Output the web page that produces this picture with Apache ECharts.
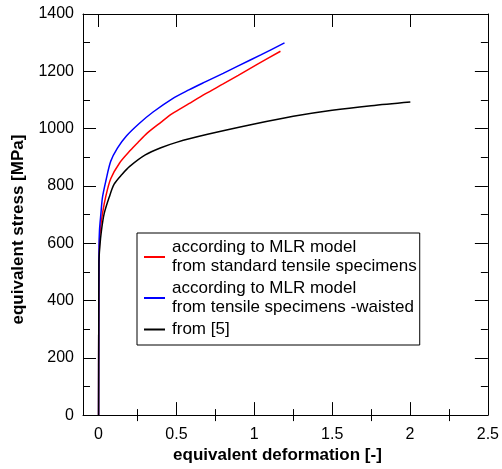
<!DOCTYPE html>
<html>
<head>
<meta charset="utf-8">
<title>Equivalent stress vs equivalent deformation</title>
<script src="https://cdn.jsdelivr.net/npm/echarts@6/dist/echarts.min.js"></script>
<style>
  html, body { margin: 0; padding: 0; background: #fff; }
  #chart { width: 502px; height: 469px; }
</style>
</head>
<body>
<div id="chart"></div>
<script>
// Flow curves: [equivalent deformation, equivalent stress in MPa]
const standardCurve = [
  [0, 0], [0.001, 300], [0.003, 530], [0.005, 588], [0.011, 646], [0.025, 703],
  [0.047, 765], [0.078, 825], [0.135, 880], [0.206, 925], [0.25, 950], [0.314, 985],
  [0.4, 1022], [0.473, 1052], [0.58, 1087], [0.685, 1121], [0.8, 1156], [0.897, 1186],
  [1.024, 1226], [1.168, 1270]
];
const waistedCurve = [
  [0, 0], [0.001, 300], [0.003, 588], [0.006, 646], [0.015, 703], [0.025, 760],
  [0.047, 818], [0.078, 886], [0.121, 932], [0.18, 975], [0.261, 1018], [0.35, 1058],
  [0.473, 1104], [0.58, 1135], [0.685, 1163], [0.8, 1193], [0.897, 1219], [1.045, 1258],
  [1.194, 1299]
];
const referenceCurve = [
  [0, 0], [0.001, 300], [0.002, 531], [0.008, 588], [0.019, 646], [0.036, 703],
  [0.068, 760], [0.1, 806], [0.15, 840], [0.2, 868], [0.3, 908], [0.4, 933],
  [0.5, 952], [0.7, 980], [1.0, 1016], [1.25, 1043], [1.5, 1064], [1.75, 1080],
  [2.002, 1093]
];

const seriesNames = [
  'according to MLR model\nfrom standard tensile specimens',
  'according to MLR model\nfrom tensile specimens -waisted',
  'from [5]'
];
const seriesColors = ['#ff0000', '#0000ff', '#000000'];

const xMajorTicks = [0, 0.5, 1, 1.5, 2, 2.5];
const xMinorTicks = [0.25, 0.75, 1.25, 1.75, 2.25];
const xRange = [-0.1, 2.5];
const yRange = [0, 1400];
const yStep = 200;

const FONT = 'Liberation Sans, Arial, Helvetica, sans-serif';
const black = '#000';

function xAxisDef(pos, ticks, len, opts) {
  return Object.assign({
    type: 'value', position: pos, min: xRange[0], max: xRange[1],
    axisLine: { show: true, onZero: false, lineStyle: { color: black, width: 1 } },
    axisTick: { show: true, inside: true, length: len, customValues: ticks,
                lineStyle: { color: black, width: 1 } },
    axisLabel: { show: false },
    splitLine: { show: false }
  }, opts || {});
}

function yAxisDef(pos, opts) {
  return Object.assign({
    type: 'value', position: pos, min: yRange[0], max: yRange[1], interval: yStep,
    axisLine: { show: true, onZero: false, lineStyle: { color: black, width: 1 } },
    axisTick: { show: true, inside: true, length: 13, lineStyle: { color: black, width: 1 } },
    minorTick: { show: true, splitNumber: 2, length: 7, lineStyle: { color: black, width: 1 } },
    axisLabel: { show: false },
    splitLine: { show: false },
    minorSplitLine: { show: false }
  }, opts || {});
}

const chart = echarts.init(document.getElementById('chart'), null, { renderer: 'canvas' });

chart.setOption({
  animation: false,
  backgroundColor: '#fff',
  grid: { left: 83, right: 10, top: 14, bottom: 48 },
  legend: {
    orient: 'vertical',
    left: 137, top: 233,
    padding: [5, 3, 6, 7],
    itemGap: 3,
    itemWidth: 21, itemHeight: 2,
    icon: 'rect',
    borderColor: black, borderWidth: 1,
    textStyle: { fontFamily: FONT, fontSize: 17, lineHeight: 19, color: black, padding: [0, 0, 0, 2] },
    data: seriesNames
  },
  xAxis: [
    xAxisDef('bottom', xMajorTicks, 13, {
      axisLabel: { show: true, customValues: xMajorTicks, margin: 11,
                   fontFamily: FONT, fontSize: 16, color: black,
                   formatter: v => String(v) },
      name: 'equivalent deformation [-]',
      nameLocation: 'middle', nameGap: 28,
      nameTextStyle: { fontFamily: FONT, fontSize: 17, fontWeight: 'bold', color: black,
                       padding: [0, 16, 0, 0] }
    }),
    xAxisDef('bottom', xMinorTicks, 6, { axisLine: { show: false } }),
    xAxisDef('top', xMajorTicks, 13),
    xAxisDef('top', xMinorTicks, 6, { axisLine: { show: false } })
  ],
  yAxis: [
    yAxisDef('left', {
      axisLabel: { show: true, margin: 9, fontFamily: FONT, fontSize: 16, color: black,
                   formatter: v => String(v) },
      name: 'equivalent stress [MPa]',
      nameLocation: 'middle', nameGap: 56,
      nameTextStyle: { fontFamily: FONT, fontSize: 17, fontWeight: 'bold', color: black,
                       padding: [0, 30, 0, 0] }
    }),
    yAxisDef('right')
  ],
  series: [standardCurve, waistedCurve, referenceCurve].map((data, i) => ({
    name: seriesNames[i],
    type: 'line',
    xAxisIndex: 0, yAxisIndex: 0,
    data: data,
    showSymbol: false, symbol: 'none',
    smooth: 0.3,
    color: seriesColors[i],
    lineStyle: { color: seriesColors[i], width: 1.5 },
    z: 2 + i
  }))
});
</script>
</body>
</html>
